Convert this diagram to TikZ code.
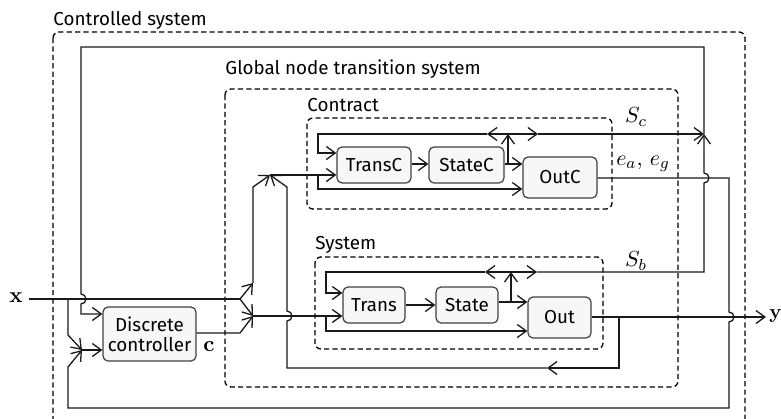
\documentclass[tikz,border=0pt]{standalone}
\usepackage[no-math]{fontspec}
\setmainfont{Fira Sans}
\usetikzlibrary{arrows.meta}
\begin{document}
\begin{tikzpicture}[x=0.5pt,y=-0.5pt,
  every node/.style={font=\fontsize{9.4}{11}\selectfont},
  mth/.style={font=\fontsize{11}{13}\selectfont},
  ln/.style={line width=0.65pt, draw=black!90},
  arr/.style={ln, -{Straight Barb[length=4.5pt,width=6.5pt]}},
  grp/.style={draw=black, line width=0.65pt, dash pattern=on 2.6pt off 1.6pt, rounded corners=3pt},
  blk/.style={draw=black!75, fill=black!3, line width=0.6pt, rounded corners=2.5pt, inner sep=0pt, align=center},
  lbl/.style={anchor=base west, inner sep=0pt},
]
\useasboundingbox (0,0) rectangle (781,418);

% group boxes
\draw[grp] (53,32) rectangle (745,440);
\node[lbl] (lcs) at (53,25) {Controlled system};
\draw[grp] (225,89) rectangle (678,387);
\node[lbl] (lgn) at (225,74) {Global node transition system};
\draw[grp] (307,118) rectangle (612,209);
\node[lbl] (lct) at (307,111) {Contract};
\draw[grp] (315,257) rectangle (603,349);
\node[lbl] (lsy) at (315,249) {System};

% blocks
\node[blk, minimum width=37pt, minimum height=18pt] (transc) at (374,165) {TransC};
\node[blk, minimum width=37.5pt, minimum height=18pt] (statec) at (466.5,165) {StateC};
\node[blk, minimum width=37pt, minimum height=20.5pt] (outc) at (560,177.5) {OutC};
\node[blk, minimum width=31pt, minimum height=18pt] (trans) at (374,305) {Trans};
\node[blk, minimum width=31pt, minimum height=18pt] (state) at (467,305) {State};
\node[blk, minimum width=31.5pt, minimum height=20.5pt] (out) at (559.5,317.5) {Out};
\node[blk, minimum width=46.5pt, minimum height=27pt] (dc) at (149.5,334) {Discrete\\[-1pt]controller};

% labels
\node[mth] (xl) at (16,298) {$\mathbf{x}$};
\node[font=\fontsize{10}{12}\selectfont, anchor=west, inner sep=0pt] (yl) at (769,316) {$\mathbf{y}$};
\node[mth] (cl) at (209,347) {$\mathbf{c}$};
\node[mth] (sc) at (636,117) {$S_c$};
\node[mth] (sb) at (636,261) {$S_b$};
\node[mth] (eae) at (643,164) {$e_a,\,e_g$};

% coordinates
\coordinate (xin) at (29,299);
\coordinate (xs1) at (68,299);
\coordinate (xs2) at (240,299);
\coordinate (up1) at (253,283);
\coordinate (cm) at (270,175);
\coordinate (sm) at (253,316);
\coordinate (dm) at (82,350);
\coordinate (scj) at (508,134);
\coordinate (sbj) at (511,272);
\coordinate (top) at (704,134);
\coordinate (oj) at (619,317);
\coordinate (yend) at (766,317);

% ---- input x
\draw[ln] (xin) -- (xs2);
\draw[arr] (xs2) -- (sm);
\draw[arr] (xs2) -- (up1);
\draw[arr] (up1) -- (253,187) -- (cm);
\draw[arr] (xs1) -- (68,335) -- (dm);
\draw[arr] (dm) -- (dc.west |- dm);

% ---- controller output c
\draw[arr] (dc.east |- 0,333) -- (240,333) -- (sm);
\draw[arr] (sm) -- (trans.west |- sm);
\draw[arr] (326,316) -- (326,331) -- (out.west |- 0,331);

% ---- contract internals
\draw[arr] (cm) -- (transc.west |- cm);
\draw[arr] (318,175) -- (318,189) -- (outc.west |- 0,189);
\draw[arr] (transc.east |- 0,164) -- (statec.west |- 0,164);
\draw[arr] (statec.east |- 0,164) -- (outc.west |- 0,164);
\draw[arr] (508,164) -- (scj);
\draw[arr] (scj) -- (487,134);
\draw[arr] (487,134) -- (318,134) -- (318,153) -- (transc.west |- 0,153);
\draw[arr] (scj) -- (538,134);
\draw[arr] (538,134) -- (top);

% ---- system internals
\draw[arr] (trans.east |- 0,305) -- (state.west |- 0,305);
\draw[arr] (state.east |- 0,302) -- (out.west |- 0,302);
\draw[arr] (511,302) -- (sbj);
\draw[arr] (sbj) -- (485,272);
\draw[arr] (485,272) -- (326,272) -- (326,293) -- (trans.west |- 0,293);
\draw[arr] (sbj) -- (537,272);
\draw[arr] (537,272) -- (704,272) -- (704,183) arc[start angle=-90,end angle=90,radius=2.5pt] -- (top);

% ---- big loop to controller
\draw[arr] (top) -- (704,47) -- (81,47) -- (81,294)
  arc[start angle=90,end angle=-90,radius=2.5pt] -- (81,314) -- (dc.west |- 0,314);

% ---- output y and feedback
\draw[arr] (out.east |- oj) -- (yend);
\draw[arr] (oj) -- (619,368) -- (547,368);
\draw[arr] (547,368) -- (287,368) -- (287,321)
  arc[start angle=-90,end angle=90,radius=2.5pt] -- (287,187) -- (cm);

% ---- e_a, e_g feedback
\draw[arr] (outc.east |- 0,178) -- (729,178) -- (729,312)
  arc[start angle=90,end angle=-90,radius=2.5pt] -- (729,408) -- (68,408) -- (68,367) -- (dm);
\end{tikzpicture}
\end{document}
